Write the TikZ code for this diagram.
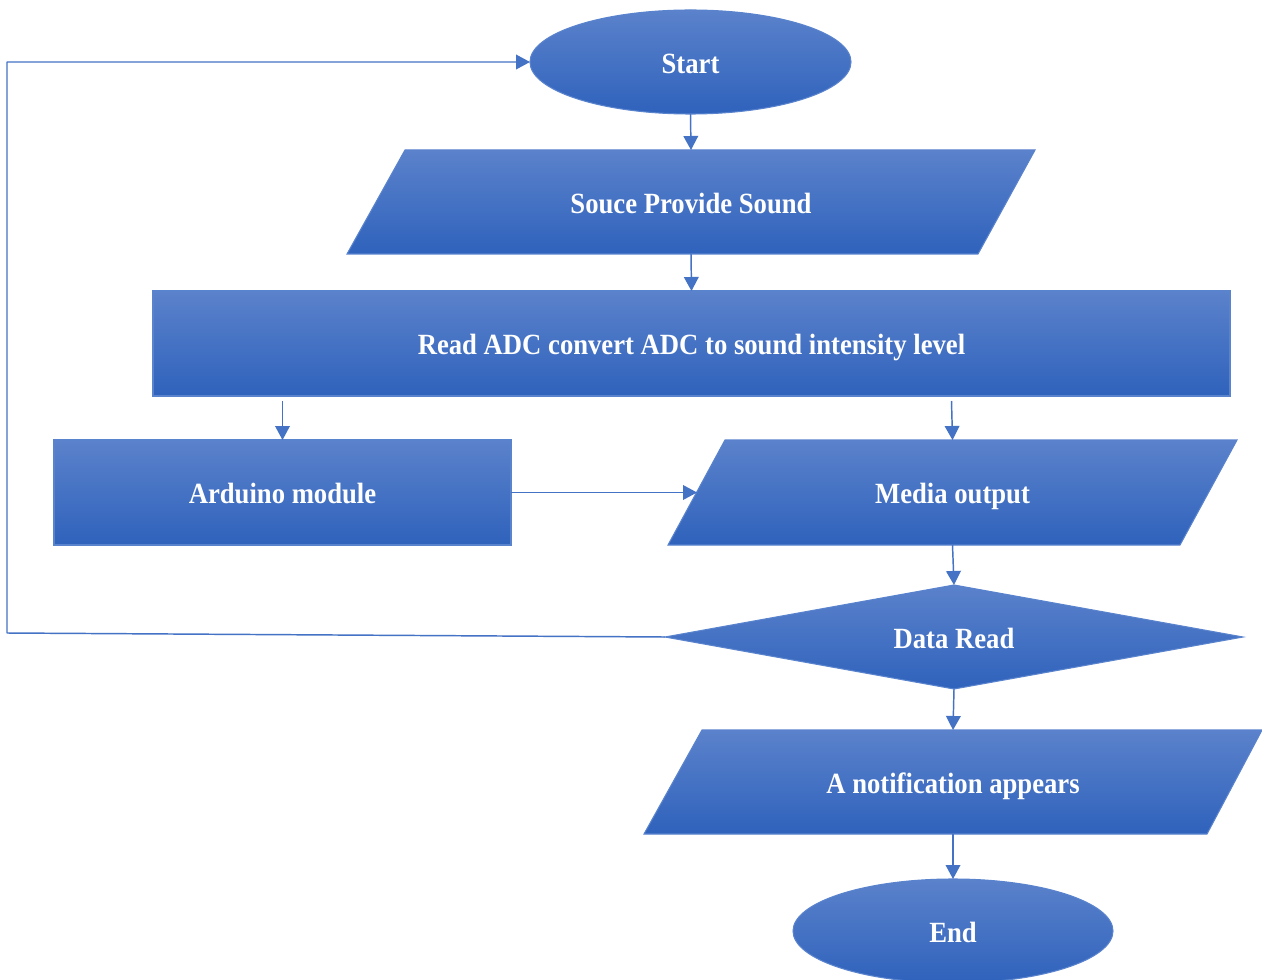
\documentclass[tikz,border=0pt]{standalone}
\usepackage{fontspec}
\setmainfont{Liberation Serif}
\usetikzlibrary{shapes.geometric,arrows.meta}
\definecolor{topc}{HTML}{5B82CB}
\definecolor{botc}{HTML}{2F62BC}
\definecolor{edgec}{HTML}{5A83CD}
\definecolor{linec}{HTML}{4472C4}
\newcommand{\lbl}[1]{\scalebox{1}[1.1]{#1}}
\begin{document}
\begin{tikzpicture}[x=0.75pt,y=-0.75pt,
  shapefill/.style={draw=edgec, line width=0.8pt, top color=topc, bottom color=botc},
  txt/.style={text=white, font=\fontsize{20}{24}\selectfont\bfseries,
    text height=16.6pt, text depth=0pt, inner sep=0pt, outer sep=0pt},
  box/.style={shapefill, txt},
  term/.style={box, ellipse},
  proc/.style={box, rectangle},
  iotext/.style={txt, rectangle},
  dec/.style={box, diamond, aspect=5.56},
  arr/.style={draw=linec, line width=1.1pt, line join=round, -{Triangle[width=11pt,length=10.5pt]}}]
\useasboundingbox (0,0) rectangle (1262,980);
\fill[white] (0,0) rectangle (1262,980);

% parallelogram bodies
\path[shapefill] (405,150) -- (1035,150) -- (978,254) -- (347,254) -- cycle;
\path[shapefill] (725,440) -- (1237,440) -- (1180,545) -- (668,545) -- cycle;
\path[shapefill] (702,730) -- (1262,730) -- (1207,834) -- (644,834) -- cycle;

\node[term, minimum width=240.75pt, minimum height=78pt] (start) at (690.5,62) {\lbl{Start}};
\node[iotext, minimum width=420pt, minimum height=78pt] (souce) at (691,202) {\lbl{Souce Provide Sound}};
\node[proc, minimum width=807.75pt, minimum height=78.75pt] (adc) at (691.5,343.5) {\lbl{Read ADC convert ADC to sound intensity level}};
\node[proc, minimum width=342.75pt, minimum height=78.75pt] (arduino) at (282.5,492.5) {\lbl{Arduino module}};
\node[iotext, minimum width=330pt, minimum height=78.75pt] (media) at (952.5,492.5) {\lbl{Media output}};
\node[dec, minimum width=433.5pt, minimum height=78pt] (data) at (954,637) {\lbl{Data Read}};
\node[iotext, minimum width=370pt, minimum height=78pt] (notif) at (953,782) {\lbl{A notification appears}};
\node[term, minimum width=240pt, minimum height=78pt] (end) at (953,931) {\lbl{End}};

\coordinate (media-in) at (697,492.5);
\draw[arr] (start.south) -- (souce.north);
\draw[arr] (souce.south) -- (adc.north);
\path (adc.south -| arduino.north) ++(0,5) coordinate (a1);
\draw[arr] (a1) -- (arduino.north);
\path (adc.south -| media.north) ++(-1,5) coordinate (a2);
\draw[arr] (a2) -- (media.north);
\draw[arr] (arduino.east) -- (media-in);
\draw[arr] (media.south) -- (data.north);
\draw[arr] (data.south) -- (notif.north);
\draw[arr] (notif.south) -- (end.north);
\coordinate (lb) at (7,633);
\coordinate (lt) at (7,62);
\draw[arr] (data.west) -- (lb) -- (lt) -- (start.west);
\end{tikzpicture}
\end{document}
